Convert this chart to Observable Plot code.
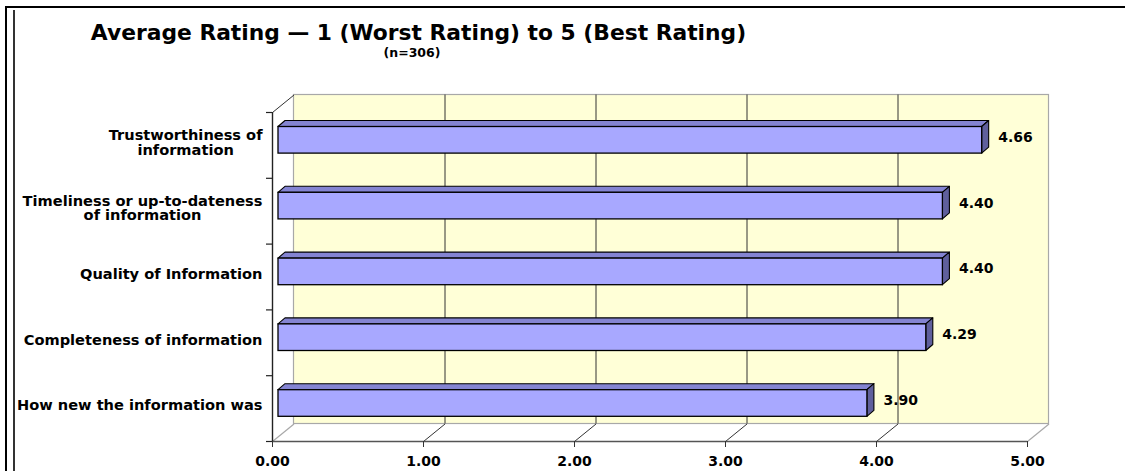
<!DOCTYPE html>
<html>
<head>
<meta charset="utf-8">
<script src="https://cdn.jsdelivr.net/npm/d3@7"></script>
<script src="https://cdn.jsdelivr.net/npm/@observablehq/plot@0.6"></script>
<style>
  body { margin: 0; background: #fff; }
  #wrap { position: relative; width: 1125px; height: 471px; overflow: hidden; background: #fff;
          font-family: "DejaVu Sans", Verdana, sans-serif; font-weight: bold; color: #000; }
  #wrap svg { position: absolute; left: 0; top: 0; }
  .frame-top { position: absolute; left: 5px; right: 0; top: 6px; height: 2px; background: #000; }
  .frame-left1 { position: absolute; left: 5px; top: 6px; bottom: 0; width: 2px; background: #000; }
  .frame-left2 { position: absolute; left: 13px; top: 10px; bottom: 0; width: 2px; background: #333; }
  #title { position: absolute; left: 0; width: 837px; top: 22px; text-align: center;
           font-size: 21.8px; line-height: 22px; white-space: nowrap; }
  #subtitle { position: absolute; left: 0; width: 824px; top: 46px; text-align: center;
              font-size: 12.5px; line-height: 13px; white-space: nowrap; }
</style>
</head>
<body>
<div id="wrap">
  <div class="frame-top"></div>
  <div class="frame-left1"></div>
  <div class="frame-left2"></div>
  <div id="title">Average Rating — 1 (Worst Rating) to 5 (Best Rating)</div>
  <div id="subtitle">(n=306)</div>
</div>
<script>
// ---- data (bottom to top, as drawn) ----
const categories = [
  "How new the information was",
  "Completeness of information",
  "Quality of Information",
  "Timeliness or up-to-dateness\nof information",
  "Trustworthiness of\ninformation"
];
const values = [3.90, 4.29, 4.40, 4.40, 4.66];
const valueLabels = ["3.90", "4.29", "4.40", "4.40", "4.66"];
const xTicks = [0, 1, 2, 3, 4, 5];

// ---- layout ----
const W = 1125, H = 471;
const X0 = 272, X5 = 1027, YTOP = 112, YBASE = 441;
const ux = 5 / (X5 - X0);                       // data units per pixel (x)
const uy = categories.length / (YBASE - YTOP);  // data units per pixel (y)
const WALL_DX = 21.5 * ux, WALL_DY = 17.5 * uy; // 3-D depth of the walls
const BAR_SHIFT = 6 * ux, BAR_TOP = 14.5 * uy, BAR_H = 26.6 * uy;
const BAR_DX = 7 * ux, BAR_DY = 6 * uy;

const bars = categories.map((c, i) => {
  const yt = i + 1 - BAR_TOP, yb = yt - BAR_H;
  return {c, i, v: values[i], label: valueLabels[i], yt, yb};
});
const topFace = bars.flatMap(b => [
  {z: b.i, y: b.yt, x1: BAR_SHIFT, x2: b.v + BAR_SHIFT},
  {z: b.i, y: b.yt + BAR_DY, x1: BAR_SHIFT + BAR_DX, x2: b.v + BAR_SHIFT + BAR_DX}
]);
const sideFace = bars.flatMap(b => [
  {z: b.i, x: b.v + BAR_SHIFT, y1: b.yb, y2: b.yt},
  {z: b.i, x: b.v + BAR_SHIFT + BAR_DX, y1: b.yb + BAR_DY, y2: b.yt + BAR_DY}
]);
const inner = xTicks.filter(t => t > 0 && t < 5);
const edge = xTicks.filter(t => t === 0 || t === 5);

const chart = Plot.plot({
  width: W, height: H,
  marginLeft: X0, marginRight: W - X5, marginTop: YTOP, marginBottom: H - YBASE,
  x: {domain: [0, 5], label: null},
  y: {domain: [0, categories.length], axis: null},
  style: {fontFamily: "DejaVu Sans, Verdana, sans-serif", fontWeight: "bold", fontSize: "14px",
          color: "#000", background: "transparent", overflow: "visible"},
  marks: [
    // back wall
    Plot.rect([0], {x1: WALL_DX, x2: 5 + WALL_DX, y1: WALL_DY, y2: categories.length + WALL_DY,
                    fill: "#FFFFD7", stroke: "#A8A8A8", strokeWidth: 1.2}),
    // gridlines on back wall
    Plot.ruleX(inner, {x: d => d + WALL_DX, y1: WALL_DY, y2: categories.length + WALL_DY,
                       stroke: "#333", strokeWidth: 1}),
    // floor diagonals
    Plot.link(inner, {x1: d => d, y1: 0, x2: d => d + WALL_DX, y2: WALL_DY, stroke: "#333", strokeWidth: 1}),
    Plot.link(edge, {x1: d => d, y1: 0, x2: d => d + WALL_DX, y2: WALL_DY, stroke: "#A8A8A8", strokeWidth: 1.2}),
    // top-left wall diagonal
    Plot.link([0], {x1: 0, y1: categories.length, x2: WALL_DX, y2: categories.length + WALL_DY,
                    stroke: "#333", strokeWidth: 1}),
    // front axes
    Plot.ruleY([0], {x1: 0, x2: 5, stroke: "#555", strokeWidth: 1.6}),
    Plot.ruleX([0], {y1: 0, y2: categories.length, stroke: "#222", strokeWidth: 1.4}),
    Plot.ruleY(d3.range(categories.length + 1), {x1: -6 * ux, x2: 0, stroke: "#222", strokeWidth: 1.2}),
    Plot.axisX({ticks: xTicks, tickFormat: d => d.toFixed(2), tickSize: 6, tickPadding: 9,
                fontSize: 14, fontWeight: "bold", stroke: "#333", label: null}),
    // bars: top face, side face, front face
    Plot.areaX(topFace, {y: "y", x1: "x1", x2: "x2", z: "z", fill: "#8484D2", stroke: "#000", strokeWidth: 1.1}),
    Plot.areaY(sideFace, {x: "x", y1: "y1", y2: "y2", z: "z", fill: "#5F5F9C", stroke: "#000", strokeWidth: 1.1}),
    Plot.rect(bars, {x1: BAR_SHIFT, x2: d => d.v + BAR_SHIFT, y1: "yb", y2: "yt",
                     fill: "#A8A8FF", stroke: "#000", strokeWidth: 1.3}),
    // value labels
    Plot.text(bars, {x: "v", y: d => d.i + 0.5, text: "label", textAnchor: "start",
                     dx: 22, dy: -8, fontSize: 14, fontWeight: "bold", fill: "#000"}),
    // category labels
    Plot.text(bars, {x: 0, y: d => d.i + 0.5, text: "c", textAnchor: "end", dx: -10, dy: -3,
                     lineHeight: 1.02, fontSize: 14.6, fontWeight: "bold", fill: "#000"})
  ]
});
document.getElementById("wrap").appendChild(chart);

// centre the lines of multi-line category labels within their right-aligned block
chart.querySelectorAll("text").forEach(t => {
  const spans = t.querySelectorAll("tspan");
  if (spans.length < 2) return;
  const w = Math.max(...Array.from(spans, s => s.getComputedTextLength()));
  t.setAttribute("text-anchor", "middle");
  t.style.textAnchor = "middle";
  spans.forEach(s => { s.setAttribute("x", -w / 2); s.style.textAnchor = "middle"; });
});
</script>
</body>
</html>
